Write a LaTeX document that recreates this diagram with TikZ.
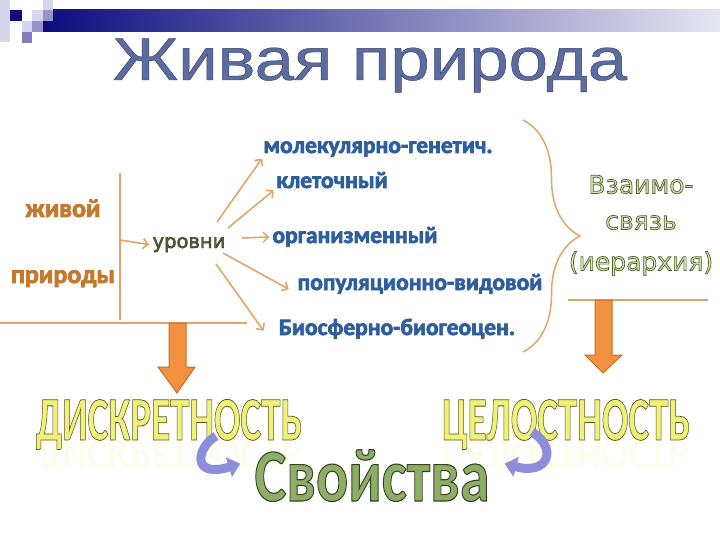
\documentclass[tikz,border=0pt]{standalone}
\usepackage{fontspec}
\usetikzlibrary{arrows.meta,decorations.pathreplacing}
\newfontfamily\titlefont{Liberation Sans}
\newfontfamily\calbold{Carlito Bold}
\newfontfamily\widefont{DejaVu Sans}

\definecolor{barnavy}{HTML}{0C0C7E}
\definecolor{barpale}{HTML}{E6E6F2}
\definecolor{sqpale}{HTML}{D6D6EC}
\definecolor{sqmid}{HTML}{9696C6}
\definecolor{sqdeep}{HTML}{8080B8}
\definecolor{titleblue}{HTML}{5C6BA0}
\definecolor{tanline}{HTML}{E3A46A}
\definecolor{rust}{HTML}{C47A2E}
\definecolor{lvlblue}{HTML}{2F5E9C}
\definecolor{olivefill}{HTML}{D6E2B4}
\definecolor{olivedark}{HTML}{56643A}
\definecolor{yellowtext}{HTML}{F0F07A}
\definecolor{greentext}{HTML}{8EAE68}
\definecolor{blockfill}{HTML}{F29140}
\definecolor{blockline}{HTML}{C46E28}
\definecolor{swirl}{HTML}{8C8EDC}

% text drawn filled and stroked: #1 stroke rgb, #2 width, #3 text
\newcommand\outlined[3]{\special{pdf:code #2 w #1 RG 2 Tr}#3\special{pdf:code 0 Tr}}
\newcommand\bluebold[1]{\outlined{0.184 0.369 0.612}{0.7}{#1}}
\newcommand\rustbold[1]{\outlined{0.769 0.478 0.18}{0.8}{#1}}

\tikzset{
  tanrule/.style={tanline, line width=1.5pt},
  lvlarrow/.style={tanline, line width=1.6pt, -{Straight Barb[length=5pt,width=10pt]}},
  level/.style={anchor=base, inner sep=0pt, text=lvlblue,
    font=\calbold\fontsize{23.5}{24}\selectfont},
  rusty/.style={anchor=base, inner sep=0pt, text=rust,
    font=\calbold\fontsize{26}{27}\selectfont},
  blockarrow/.style={fill=blockfill, draw=blockline, line width=1pt},
  swirlarrow/.style={swirl, line width=9pt, -{Triangle[length=12pt,width=20pt]}},
  bigword/.style={anchor=base, inner sep=0pt, text=yellowtext, xscale=0.63,
    font=\calbold\fontsize{62}{62}\selectfont},
}

\begin{document}
\begin{tikzpicture}[x=1pt,y=-1pt]
  \useasboundingbox (0,0) rectangle (720,540);

  % header bar
  \shade[left color=barnavy, right color=barpale] (43,10) rectangle (720,32);
  \fill[sqpale] (0,0) rectangle (10,42);
  \fill[barnavy] (10,10) rectangle (22,21);
  \fill[sqpale] (32,10) rectangle (43,21);
  \fill[sqpale] (43,0) rectangle (53,10);
  \fill[sqmid] (43,10) rectangle (53,21);
  \fill[sqpale] (22,21) rectangle (32,32);
  \fill[sqmid] (32,21) rectangle (43,32);
  \fill[sqdeep] (22,32) rectangle (32,43);

  \node[anchor=base, inner sep=0pt, text=titleblue, xscale=1.18,
    font=\titlefont\fontsize{60}{60}\selectfont] (title) at (370,80)
    {\outlined{0.22 0.25 0.42}{0.45}{Живая природа}};

  % left part
  \node[rusty] (zhivoy) at (63,217) {\rustbold{живой}};
  \node[rusty] (prirody) at (63,283) {\rustbold{природы}};
  \draw[tanrule] (120,173) -- (120,320);
  \draw[tanrule] (0,323) -- (247,323);
  \coordinate (fork) at (120,240);

  \node[anchor=base, text=olivedark,
    font=\widefont\fontsize{19.5}{19.5}\selectfont] (urovni) at (189,248)
    {\outlined{0.18 0.22 0.1}{0.45}{уровни}};
  \draw[lvlarrow] (fork) -- (urovni.west);

  % levels
  \node[level] (mol) at (378,153) {\bluebold{молекулярно-генетич.}};
  \node[level] (klet) at (332,188) {\bluebold{клеточный}};
  \node[level] (org) at (355,243) {\bluebold{организменный}};
  \node[level] (pop) at (420,290) {\bluebold{популяционно-видовой}};
  \node[level] (bio) at (397,335) {\bluebold{Биосферно-биогеоцен.}};

  \coordinate (t1) at (217,222);
  \coordinate (t2) at (228,228);
  \coordinate (t3) at (242,238);
  \coordinate (t4) at (223,253);
  \coordinate (t5) at (216,264);
  \draw[lvlarrow, shorten >=2pt] (t1) -- (mol.south west);
  \draw[lvlarrow, shorten >=3pt] (t2) -- (klet.south west);
  \draw[lvlarrow, shorten >=3pt] (t3) -- (org.west);
  \draw[lvlarrow, shorten >=10pt] (t4) -- (pop.south west);
  \draw[lvlarrow] (t5) -- ([xshift=-15pt,yshift=-2pt]bio.west);

  % brace and right part
  \draw[tanrule, decorate, decoration={brace, amplitude=57pt}] (523,120) -- (523,352);
  \node[align=center, anchor=north, inner sep=0pt, text=olivefill,
    font=\widefont\fontsize{25}{36}\selectfont] (vz) at (641,175)
    {\outlined{0.3 0.38 0.16}{0.7}{Взаимо-}\\ \outlined{0.3 0.38 0.16}{0.7}{связь}\\[5pt]
     \outlined{0.3 0.38 0.16}{0.7}{(иерархия)}};
  \draw[tanrule] (568,300) -- (708,300);

  % block arrows
  \filldraw[blockarrow] (169,323) -- (186,323) -- (186,367) -- (195,367) -- (177,393)
    -- (158,367) -- (169,367) -- cycle;
  \filldraw[blockarrow] (595,300) -- (612,300) -- (612,355) -- (622,355) -- (603,373)
    -- (585,355) -- (595,355) -- cycle;

  % properties
  \node[bigword, yscale=-0.7, opacity=0.12] (diskrefl) at (169,440) {ДИСКРЕТНОСТЬ};
  \node[bigword, yscale=-0.7, opacity=0.12] (celrefl) at (566,440) {ЦЕЛОСТНОСТЬ};
  \node[bigword] (disk) at (169,440) {\outlined{0.35 0.35 0.12}{0.8}{ДИСКРЕТНОСТЬ}};
  \node[bigword] (cel) at (566,440) {\outlined{0.35 0.35 0.12}{0.8}{ЦЕЛОСТНОСТЬ}};

  \node[anchor=base, inner sep=0pt, text=greentext, xscale=0.8,
    font=\calbold\fontsize{75}{75}\selectfont] (svoi) at (372,501)
    {\outlined{0.2 0.26 0.12}{1.1}{Свойства}};

  \draw[swirlarrow] ([xshift=47pt,yshift=4pt]disk.base) .. controls +(-20,12) and +(-49,15)
    .. ([xshift=-14pt,yshift=12pt]svoi.west);
  \draw[swirlarrow] ([xshift=-34pt,yshift=8pt]cel.base) .. controls +(26,16) and +(44,12)
    .. ([xshift=15pt,yshift=12pt]svoi.east);
\end{tikzpicture}
\end{document}
